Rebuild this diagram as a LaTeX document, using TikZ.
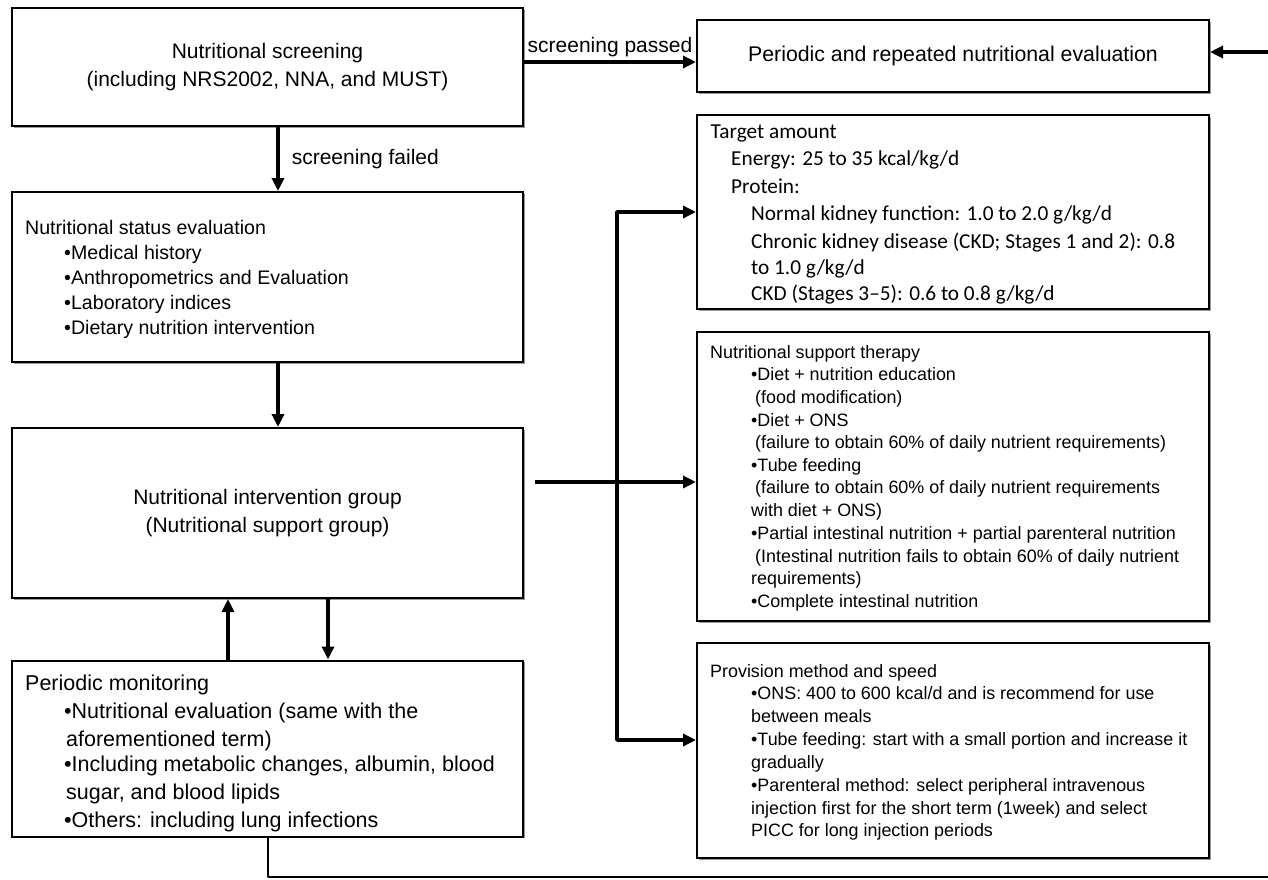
\documentclass[tikz,border=0pt]{standalone}
\usepackage{fontspec}
\setmainfont{Liberation Sans}
\newfontfamily\calib{Carlito}
\usetikzlibrary{arrows.meta,shadows,calc}
\begin{document}
\begin{tikzpicture}[x=1pt,y=-1pt,
  box/.style={draw=black, line width=2pt, fill=white, rectangle, inner sep=0pt,
    drop shadow={shadow xshift=1.6pt, shadow yshift=-1.6pt, fill=black!40, opacity=1}},
  big/.style={font=\fontsize{21}{28.5}\selectfont, align=center},
  tline/.style={anchor=base west, inner sep=0pt},
  stat/.style={tline, font=\fontsize{19.6}{24}\selectfont},
  mon/.style={tline, font=\fontsize{21.5}{26}\selectfont},
  sml/.style={tline, font=\fontsize{17.9}{22}\selectfont},
  tgt/.style={tline, font=\calib\fontsize{21.3}{26}\selectfont},
  arr/.style={line width=3.6pt, line join=round, -{Triangle[length=13pt,width=12pt]}},
  loopline/.style={line width=2.2pt, line join=round}
]
\useasboundingbox (0,0) rectangle (1268,879);
\fill[white] (0,0) rectangle (1268,879);

% boxes
\node[box, big, minimum width=511pt, minimum height=118pt] (b1) at (267.5,67)
  {Nutritional screening\\(including NRS2002, NNA, and MUST)};
\node[box, big, font=\fontsize{21.3}{28.5}\selectfont, minimum width=512pt, minimum height=72pt] (b2) at (953,56)
  {Periodic and repeated nutritional evaluation};
\node[box, minimum width=511pt, minimum height=170pt] (b3) at (267.5,277) {};
\node[box, big, minimum width=511pt, minimum height=170pt] (b4) at (267.5,513)
  {Nutritional intervention group\\(Nutritional support group)};
\node[box, minimum width=511pt, minimum height=176pt] (b5) at (267.5,748.5) {};
\node[box, minimum width=512pt, minimum height=194pt] (t) at (953,212) {};
\node[box, minimum width=512pt, minimum height=289pt] (s) at (953,476.5) {};
\node[box, minimum width=512pt, minimum height=215pt] (p) at (953,750.5) {};

% status evaluation text
\node[stat] (b3a) at (25,234) {Nutritional status evaluation};
\node[stat] (b3b) at (64,259) {•Medical history};
\node[stat] (b3c) at (64,284) {•Anthropometrics and Evaluation};
\node[stat] (b3d) at (64,309) {•Laboratory indices};
\node[stat] (b3e) at (64,334) {•Dietary nutrition intervention};

% monitoring text
\node[mon] (b5a) at (25,690) {Periodic monitoring};
\node[mon] (b5b) at (64,718) {•Nutritional evaluation (same with the};
\node[mon] (b5c) at (66,746) {aforementioned term)};
\node[mon] (b5d) at (64,771.5) {•Including metabolic changes, albumin, blood};
\node[mon] (b5e) at (66,799) {sugar, and blood lipids};
\node[mon] (b5f) at (64,827) {•Others: including lung infections};

% target amount text
\node[tgt] (ta) at (710.5,138) {Target amount};
\node[tgt] (tb) at (731,165) {Energy: 25 to 35 kcal/kg/d};
\node[tgt] (tc) at (731,193) {Protein:};
\node[tgt] (td) at (751,220) {Normal kidney function: 1.0 to 2.0 g/kg/d};
\node[tgt] (te) at (751,248) {Chronic kidney disease (CKD; Stages 1 and 2): 0.8};
\node[tgt] (tf) at (751,274) {to 1.0 g/kg/d};
\node[tgt] (tg) at (751,300) {CKD (Stages 3–5): 0.6 to 0.8 g/kg/d};

% support therapy text
\node[sml] (sa) at (710,358) {Nutritional support therapy};
\node[sml] (sb) at (751,380.5) {•Diet + nutrition education};
\node[sml] (sc) at (755,403) {(food modification)};
\node[sml] (sd) at (751,426) {•Diet + ONS};
\node[sml] (se) at (755,448.5) {(failure to obtain 60\% of daily nutrient requirements)};
\node[sml] (sf) at (751,471) {•Tube feeding};
\node[sml] (sg) at (755,493.5) {(failure to obtain 60\% of daily nutrient requirements};
\node[sml] (sh) at (751,516) {with diet + ONS)};
\node[sml] (si) at (751,539) {•Partial intestinal nutrition + partial parenteral nutrition};
\node[sml] (sj) at (755,562) {(Intestinal nutrition fails to obtain 60\% of daily nutrient};
\node[sml] (sk) at (751,584.5) {requirements)};
\node[sml] (sl) at (751,607) {•Complete intestinal nutrition};

% provision text
\node[sml] (pa) at (710,677) {Provision method and speed};
\node[sml] (pb) at (751,699.5) {•ONS: 400 to 600 kcal/d and is recommend for use};
\node[sml] (pc) at (751,722.5) {between meals};
\node[sml] (pd) at (751,745.5) {•Tube feeding: start with a small portion and increase it};
\node[sml] (pe) at (751,768.5) {gradually};
\node[sml] (pf) at (751,791) {•Parenteral method: select peripheral intravenous};
\node[sml] (pg) at (751,814) {injection first for the short term (1week) and select};
\node[sml] (ph) at (751,836.5) {PICC for long injection periods};

% connectors
\draw[arr] (b1.east |- 0,62) -- node[above=3pt, font=\fontsize{21}{24}\selectfont, inner sep=0pt] (lp) {screening passed} (b2.west |- 0,62);
\draw[arr] (b1.south -| 278,0) -- node[right=12pt, font=\fontsize{21}{24}\selectfont, inner sep=0pt] (lf) {screening failed} (b3.north -| 278,0);
\draw[arr] (b3.south -| 278,0) -- (b4.north -| 278,0);
\draw[arr] (b5.north -| 228,0) -- (b4.south -| 228,0);
\draw[arr] (b4.south -| 328,0) -- (b5.north -| 328,0);

\coordinate (bs) at (535,482);
\coordinate (bj) at (617,482);
\draw[arr] (bs) -- (s.west |- bs);
\draw[arr] (bj) -- (617,212) -- (t.west |- 0,212);
\draw[arr] (bj) -- (617,740) -- (p.west |- 0,740);

\coordinate (lc1) at (268,877);
\coordinate (lc2) at (1278,877);
\coordinate (lc3) at (1278,52);
\draw[loopline] (b5.south -| lc1) -- (lc1) -- (lc2) -- (lc3);
\draw[arr] (lc3) -- (b2.east |- lc3);
\end{tikzpicture}
\end{document}
